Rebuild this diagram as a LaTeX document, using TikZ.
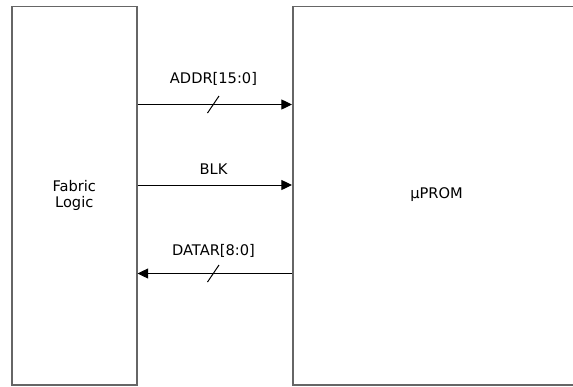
\documentclass[tikz,border=0pt]{standalone}
\usepackage{fontspec}
\setmainfont{DejaVu Sans}
\usetikzlibrary{arrows.meta,positioning}

\tikzset{
  blockbox/.style={draw=black!60, line width=1.3pt, anchor=north west, align=center, font=\fontsize{12.5}{15}\selectfont},
  sigline/.style={draw=black, line width=0.85pt, -{Triangle[length=9pt,width=8.5pt]}},
  siglabel/.style={font=\fontsize{12.5}{14}\selectfont},
  busmark/.style={draw=black, line width=0.85pt}
}

\begin{document}
\begin{tikzpicture}[x=0.03cm, y=-0.03cm]
  \useasboundingbox (0,0) rectangle (573,386);
  \clip (0,0) rectangle (573,386);

  % Blocks
  \node[blockbox, minimum width=3.75cm, minimum height=11.355cm] (fabric) at (11,5.5) {Fabric\\[-2pt]Logic};
  \node[blockbox, minimum width=9.6cm, minimum height=11.355cm] (prom) at (292,5.5) {};
  \node[siglabel] (promlbl) at (436.5,195) {µPROM};

  % Signal rows
  \coordinate (addr) at (0,104.5);
  \coordinate (blk) at (0,185);
  \coordinate (datar) at (0,273.5);

  % ADDR bus
  \draw[sigline] (fabric.east |- addr) -- (prom.west |- addr);
  \node[siglabel] (addrlbl) at (213.5,79) {ADDR[15:0]};
  \draw[busmark] (207.5,113) -- (219,96);

  % BLK
  \draw[sigline] (fabric.east |- blk) -- (prom.west |- blk);
  \node[siglabel] (blklbl) at (213.5,169.5) {BLK};

  % DATAR bus
  \draw[sigline] (prom.west |- datar) -- (fabric.east |- datar);
  \node[siglabel] (datarlbl) at (213.5,250.5) {DATAR[8:0]};
  \draw[busmark] (207.5,282) -- (219,265);
\end{tikzpicture}
\end{document}
